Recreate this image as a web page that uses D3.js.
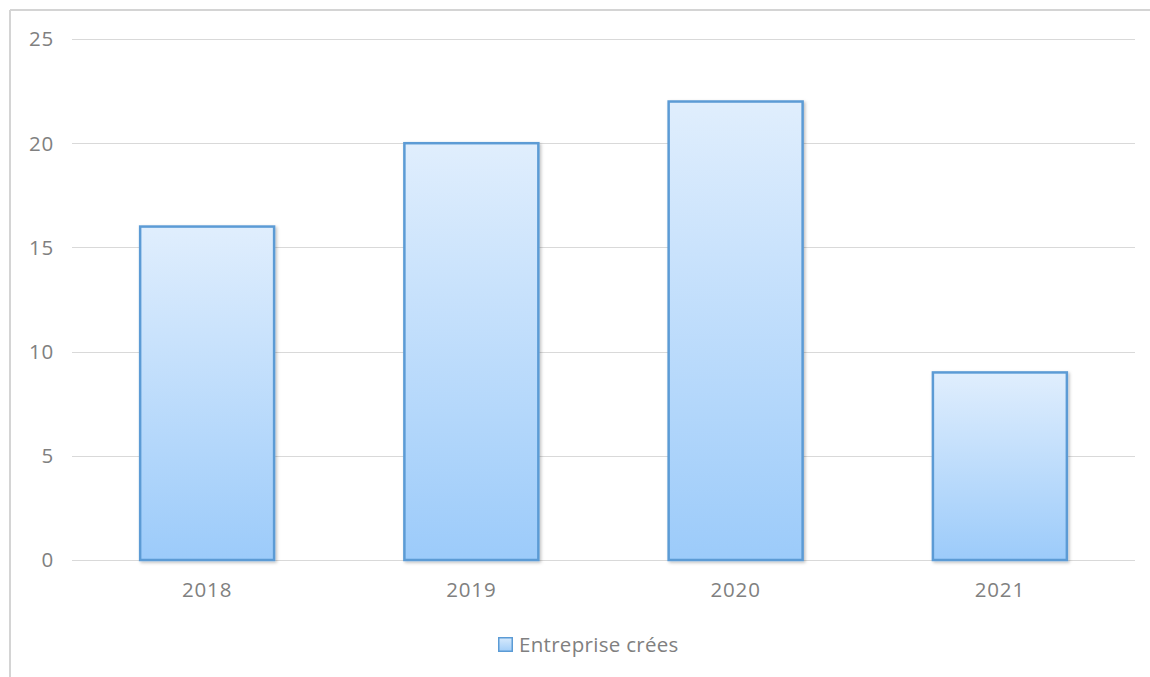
<!DOCTYPE html>
<html><head><meta charset="utf-8">
<script src="https://cdn.jsdelivr.net/npm/d3@7"></script>
<style>body{margin:0;background:#fff}svg{display:block}text{font-family:"Open Sans",sans-serif}</style>
</head><body><svg id="c" width="1150" height="677"></svg>
<script>
const categories = ["2018","2019","2020","2021"];
const values = [16,20,22,9];
const yTicks = [0,5,10,15,20,25];
const seriesName = "Entreprise crées";

const svg = d3.select("#c");
const defs = svg.append("defs");
const g = defs.append("linearGradient").attr("id","bg").attr("x1",0).attr("y1",0).attr("x2",0).attr("y2",1);
g.append("stop").attr("offset","0%").attr("stop-color","#e0eefd");
g.append("stop").attr("offset","100%").attr("stop-color","#9ccbfa");
const lg = defs.append("linearGradient").attr("id","lgr").attr("x1",0).attr("y1",0).attr("x2",0).attr("y2",1);
lg.append("stop").attr("offset","0%").attr("stop-color","#d6e9fc");
lg.append("stop").attr("offset","100%").attr("stop-color","#a3cef8");
const f = defs.append("filter").attr("id","sh").attr("x","-10%").attr("y","-10%").attr("width","130%").attr("height","130%");
f.append("feDropShadow").attr("dx",1.5).attr("dy",1.5).attr("stdDeviation",1.5).attr("flood-color","#000").attr("flood-opacity",0.25);

// frame
svg.append("line").attr("x1",10).attr("x2",1150).attr("y1",10).attr("y2",10).attr("stroke","#d4d4d4").attr("stroke-width",2);
svg.append("line").attr("x1",10).attr("x2",10).attr("y1",10).attr("y2",677).attr("stroke","#d4d4d4").attr("stroke-width",2);

const x = d3.scaleBand().domain(categories).range([75,1132]).paddingInner(0.493).paddingOuter(0.2465);
const y = d3.scaleLinear().domain([0,25]).range([560,39]);

// gridlines
svg.append("g").selectAll("line").data(yTicks).join("line")
  .attr("x1",72).attr("x2",1135).attr("y1",d=>Math.round(y(d))+0.5).attr("y2",d=>Math.round(y(d))+0.5)
  .attr("stroke","#d9d9d9").attr("stroke-width",1);

const labelColor = "#808080";
const fs = 20.5;
// y axis labels
const ya = svg.append("g").attr("transform","translate(54,0)")
  .call(d3.axisLeft(y).tickValues(yTicks).tickSize(0).tickPadding(0));
ya.select(".domain").remove();
ya.selectAll("text").attr("font-family","Open Sans, sans-serif").attr("font-size",fs).attr("letter-spacing",0.8).attr("fill",labelColor).attr("dy","0.34em");

// bars
svg.append("g").selectAll("rect").data(values).join("rect")
  .attr("x",(d,i)=>x(categories[i])).attr("width",x.bandwidth())
  .attr("y",d=>y(d)).attr("height",d=>y(0)-y(d))
  .attr("fill","url(#bg)").attr("stroke","#5b9bd5").attr("stroke-width",2.5)
  .attr("filter","url(#sh)");

// x axis labels
const xa = svg.append("g").attr("transform","translate(0,582)")
  .call(d3.axisBottom(x).tickSize(0).tickPadding(0));
xa.select(".domain").remove();
xa.selectAll("text").attr("font-family","Open Sans, sans-serif").attr("font-size",fs).attr("letter-spacing",0.8).attr("fill",labelColor);

// legend
const leg = svg.append("g").attr("transform","translate(498,637)");
leg.append("rect").attr("x",0.75).attr("y",0.75).attr("width",13.5).attr("height",13.5)
  .attr("fill","url(#lgr)").attr("stroke","#5b9bd5").attr("stroke-width",1.5);
leg.append("text").attr("x",21).attr("y",14.5).attr("font-size",fs).attr("letter-spacing",0.3).attr("fill",labelColor).text(seriesName);
</script></body></html>
